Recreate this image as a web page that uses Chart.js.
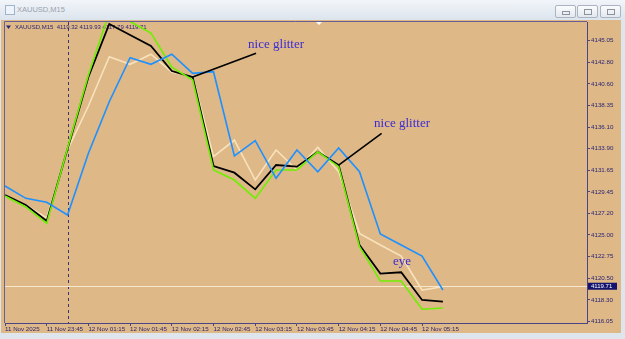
<!DOCTYPE html>
<html>
<head>
<meta charset="utf-8">
<script src="https://cdn.jsdelivr.net/npm/chart.js@4.4.1/dist/chart.umd.min.js"></script>
<style>
html, body { margin: 0; padding: 0; width: 625px; height: 339px; overflow: hidden; background: #dfe5ec; }
#wrap { position: relative; width: 625px; height: 339px; }
#chart { position: absolute; left: 0; top: 0; }
#titlebar { position: absolute; left: 0; top: 0; width: 625px; height: 20px;
  background: linear-gradient(#f2f5f9, #dce4ed); }
#titletext { position: absolute; left: 17px; top: 5px; font-family: "Liberation Sans"; font-size: 7.5px; color: #98a1ac; }
#icon { position: absolute; left: 5px; top: 5px; width: 8px; height: 8px; border: 1px solid #9fb3c9; background: #eef4fb; }
.btn { position: absolute; top: 5px; width: 19px; height: 11px; border: 1px solid #aab4c0; border-radius: 2px;
  background: linear-gradient(#fbfcfd, #e3e8ee); }
.btn span { position: absolute; left: 6px; top: 3px; width: 6px; height: 4px; border: 1px solid #8a939e; }
</style>
</head>
<body>
<div id="wrap">
  <canvas id="chart" width="625" height="339"></canvas>
  <div id="titlebar">
    <div id="icon"></div>
    <div id="titletext">XAUUSD,M15</div>
    <div class="btn" style="left:555px"><span style="height:2px;top:5px"></span></div>
    <div class="btn" style="left:577px"><span></span></div>
    <div class="btn" style="left:600px"><span></span></div>
  </div>
</div>
<script>
// bar index 0..21, every second bar labelled
const xLabels = ["11 Nov 2025", "11 Nov 23:45", "12 Nov 01:15", "12 Nov 01:45", "12 Nov 02:15",
  "12 Nov 02:45", "12 Nov 03:15", "12 Nov 03:45", "12 Nov 04:15", "12 Nov 04:45", "12 Nov 05:15"];
const xTickIdx = [0, 2, 4, 6, 8, 10, 12, 14, 16, 18, 20];
const yTicks = [4145.05, 4142.80, 4140.60, 4138.35, 4136.10, 4133.90, 4131.65, 4129.45,
  4127.20, 4125.00, 4122.75, 4120.50, 4118.30, 4116.05];

const blackVals = [4129.13, 4128.09, 4126.44, 4133.87, 4141.30, 4146.77, 4145.64, 4144.50, 4141.92, 4141.30,
  4132.12, 4131.43, 4129.71, 4132.22, 4132.05, 4133.59, 4132.22, 4123.97, 4121.02, 4121.15, 4118.29, 4118.13];
const greenVals = [4129.02, 4127.89, 4126.20, 4133.98, 4141.51, 4147.97, 4147.03, 4145.84, 4142.33, 4140.99,
  4131.71, 4130.67, 4128.78, 4131.71, 4131.71, 4133.59, 4132.05, 4123.79, 4120.25, 4120.25, 4117.33, 4117.46];
const creamVals = [4129.02, 4128.09, 4126.75, 4133.77, 4138.31, 4143.40, 4142.61, 4143.65, 4141.79, 4141.41,
  4133.08, 4134.80, 4130.67, 4133.77, 4131.71, 4134.05, 4131.53, 4125.17, 4123.97, 4122.83, 4119.32, 4119.66];
const blueVals = [4130.05, 4128.78, 4128.37, 4127.06, 4133.43, 4138.75, 4143.29, 4142.61, 4143.65, 4141.68,
  4141.85, 4133.15, 4134.73, 4130.85, 4133.77, 4131.53, 4133.98, 4131.53, 4125.10, 4123.97, 4122.83, 4119.32];

const lastPrice = 4119.71;
const headerText = "XAUUSD,M15  4119.32 4119.93 4117.79 4119.71";
const separatorIdx = 3;
// drawn objects: [x1, y1, x2, y2] in bar index / price
const trendLines = [[9, 4141.30, 12.04, 4143.75], [16, 4132.22, 18.06, 4135.49]];
const notes = [["nice glitter", 13.0, 4144.61], ["nice glitter", 19.04, 4136.52], ["eye", 19.04, 4122.24]];

const axisColor = '#4a4585';
const tan = '#deb887';
const font = 'Liberation Sans';

function pts(vals) { return vals.map((v, i) => ({ x: i, y: v })); }

const decor = {
  id: 'decor',
  beforeDraw(chart) {
    const ctx = chart.ctx;
    ctx.save();
    ctx.fillStyle = '#dfe5ec';
    ctx.fillRect(0, 0, 625, 339);
    ctx.fillStyle = tan;
    ctx.fillRect(1, 20, 620, 313);
    ctx.restore();
  },
  beforeDatasetsDraw(chart) {
    const ctx = chart.ctx, a = chart.chartArea;
    const xs = chart.scales.x, ys = chart.scales.y;
    ctx.save();
    // period separator
    ctx.strokeStyle = '#3a3478';
    ctx.setLineDash([3, 3]);
    ctx.lineWidth = 1;
    const sx = Math.round(xs.getPixelForValue(separatorIdx)) + 0.5;
    ctx.beginPath(); ctx.moveTo(sx, a.top); ctx.lineTo(sx, a.bottom); ctx.stroke();
    ctx.setLineDash([]);
    // last price line
    const py = Math.round(ys.getPixelForValue(lastPrice)) + 0.5;
    ctx.strokeStyle = '#f6e8cc';
    ctx.beginPath(); ctx.moveTo(a.left, py); ctx.lineTo(a.right, py); ctx.stroke();
    // header
    ctx.fillStyle = '#2a2575';
    ctx.beginPath(); ctx.moveTo(6, 25.5); ctx.lineTo(11, 25.5); ctx.lineTo(8.5, 29); ctx.closePath(); ctx.fill();
    ctx.font = '6px "' + font + '"';
    ctx.textBaseline = 'middle';
    ctx.fillText(headerText, 15, 27.5);
    // chart shift marker
    ctx.fillStyle = '#ffffff';
    ctx.beginPath(); ctx.moveTo(316, 22); ctx.lineTo(322, 22); ctx.lineTo(319, 25); ctx.closePath(); ctx.fill();
    ctx.restore();
  },
  afterDatasetsDraw(chart) {
    const ctx = chart.ctx;
    const xs = chart.scales.x, ys = chart.scales.y;
    ctx.save();
    ctx.strokeStyle = '#000000';
    ctx.lineWidth = 1.6;
    trendLines.forEach(t => {
      ctx.beginPath();
      ctx.moveTo(xs.getPixelForValue(t[0]), ys.getPixelForValue(t[1]));
      ctx.lineTo(xs.getPixelForValue(t[2]), ys.getPixelForValue(t[3]));
      ctx.stroke();
    });
    ctx.fillStyle = '#3b2bd6';
    ctx.font = '13px "Liberation Serif"';
    ctx.textAlign = 'center';
    ctx.textBaseline = 'middle';
    notes.forEach(n => ctx.fillText(n[0], xs.getPixelForValue(n[1]), ys.getPixelForValue(n[2])));
    ctx.restore();
  },
  afterDraw(chart) {
    const ctx = chart.ctx, a = chart.chartArea;
    const ys = chart.scales.y;
    ctx.save();
    // frame left and top
    ctx.strokeStyle = '#6a5f95';
    ctx.lineWidth = 1;
    ctx.beginPath();
    ctx.moveTo(a.left - 0.5, a.bottom); ctx.lineTo(a.left - 0.5, a.top - 0.5); ctx.lineTo(a.right, a.top - 0.5);
    ctx.stroke();
    // last price label
    const py = ys.getPixelForValue(lastPrice);
    ctx.fillStyle = '#14146e';
    ctx.fillRect(a.right + 1, py - 3.5, 29, 7);
    ctx.fillStyle = '#ffffff';
    ctx.font = '6px "' + font + '"';
    ctx.textBaseline = 'middle';
    ctx.fillText(lastPrice.toFixed(2), a.right + 4, py);
    ctx.restore();
  }
};

const ctx = document.getElementById('chart').getContext('2d');
new Chart(ctx, {
  type: 'line',
  data: {
    datasets: [
      { label: 'blue', data: pts(blueVals), borderColor: '#1e90ff', borderWidth: 1.6, order: 0 },
      { label: 'green', data: pts(greenVals), borderColor: '#6cf000', borderWidth: 1.6, order: 1 },
      { label: 'black', data: pts(blackVals), borderColor: '#000000', borderWidth: 1.8, order: 2 },
      { label: 'cream', data: pts(creamVals), borderColor: '#f8e2bc', borderWidth: 1.6, order: 3 },
    ],
  },
  options: {
    responsive: false,
    animation: false,
    layout: { padding: { left: 5, top: 22, right: 0, bottom: 0 } },
    elements: { point: { radius: 0 }, line: { tension: 0 } },
    plugins: { legend: { display: false }, tooltip: { enabled: false } },
    scales: {
      x: {
        type: 'linear', min: 0, max: 27.91,
        afterFit(s) { s.height = 16; },
        afterBuildTicks(s) { s.ticks = xTickIdx.map(v => ({ value: v })); },
        grid: { drawOnChartArea: false, tickLength: 3, color: axisColor },
        border: { color: axisColor, width: 1 },
        ticks: {
          autoSkip: false, maxRotation: 0, minRotation: 0, align: 'start', padding: 0,
          color: '#2a2575', font: { family: font, size: 6.2 },
          callback: (v) => xLabels[xTickIdx.indexOf(v)],
        },
      },
      y: {
        position: 'right', min: 4115.916, max: 4146.98,
        afterFit(s) { s.width = 38; },
        afterBuildTicks(s) { s.ticks = yTicks.map(v => ({ value: v })); },
        grid: { drawOnChartArea: false, tickLength: 3, color: axisColor },
        border: { color: axisColor, width: 1 },
        ticks: {
          padding: 1, color: '#2a2575', font: { family: font, size: 6.2 },
          callback: (v) => Number(v).toFixed(2),
        },
      },
    },
  },
  plugins: [decor],
});
</script>
</body>
</html>
